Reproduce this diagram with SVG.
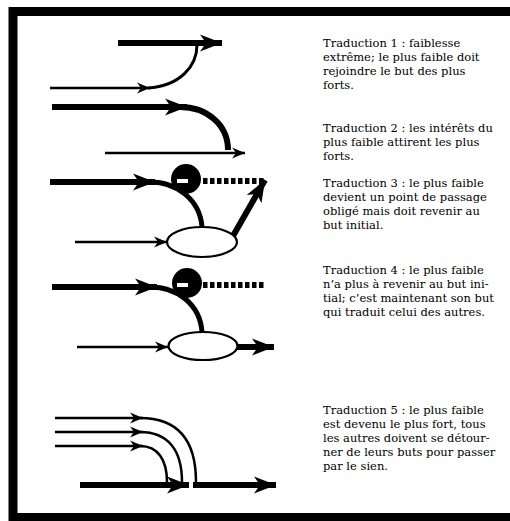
<svg xmlns="http://www.w3.org/2000/svg" width="510" height="521" viewBox="0 0 510 521">
<style>
.thin{fill:none;stroke:#000;stroke-width:2.5}
.thick{fill:none;stroke:#000;stroke-width:6}
.curve{fill:none;stroke:#000;stroke-width:5}
.dots{fill:none;stroke:#000;stroke-width:6;stroke-dasharray:4.5 2.5}
.node{fill:#fff;stroke:#000;stroke-width:2.2}
.txt{font-family:"DejaVu Serif","Liberation Serif",serif;font-size:11.5px;fill:#000}
</style>
<defs>
<marker id="ah" markerUnits="userSpaceOnUse" viewBox="-15 -7 17 14" refX="0" refY="0" markerWidth="17" markerHeight="14" orient="auto">
<path d="M0,0 L-13,-5.5 L-9,0 L-13,5.5 Z" fill="#000"/>
</marker>
<marker id="ahb" markerUnits="userSpaceOnUse" viewBox="-23 -10 25 20" refX="0" refY="0" markerWidth="25" markerHeight="20" orient="auto">
<path d="M0,0 L-22,-8.5 L-16,0 L-22,8.5 Z" fill="#000"/>
</marker>
</defs>
<rect x="13" y="11.5" width="520" height="506" fill="#fff" stroke="#000" stroke-width="9"/>

<g id="connectors">
<!-- Traduction 1 -->
<path class="thick" d="M118 43 H222" marker-end="url(#ahb)"/>
<path class="thin" d="M50 88 H150" marker-end="url(#ah)"/>
<path class="thin" d="M148 88 C180 86 197 66 197 45" style="stroke-width:3"/>
<!-- Traduction 2 -->
<path class="thick" d="M52 107 H187" marker-end="url(#ahb)"/>
<path class="thick" d="M180 107 C206 107 228 124 228 150"/>
<path class="thin" d="M105 153 H245" marker-end="url(#ah)"/>
<!-- Traduction 3 -->
<path class="thick" d="M50 182 H155" marker-end="url(#ahb)"/>
<path class="curve" d="M150 182 C177 182 200 200 202 227"/>
<path class="dots" d="M203 181 H265"/>
<path class="thin" d="M75 242 H167" marker-end="url(#ah)"/>
<path class="thick" d="M233 236 L265 180" marker-end="url(#ahb)"/>
<!-- Traduction 4 -->
<path class="thick" d="M52 287 H157" marker-end="url(#ahb)"/>
<path class="curve" d="M150 287 C177 287 200 304 202 332"/>
<path class="dots" d="M203 285 H265"/>
<path class="thin" d="M77 347 H168" marker-end="url(#ah)"/>
<path class="thick" d="M237 347 H274" marker-end="url(#ahb)"/>
<!-- Traduction 5 -->
<path class="thin" d="M55 418 H143" marker-end="url(#ah)"/>
<path class="thin" d="M55 432 H143" marker-end="url(#ah)"/>
<path class="thin" d="M55 446 H143" marker-end="url(#ah)"/>
<path class="thin" d="M140 418 C178 418 196 440 196 482"/>
<path class="thin" d="M140 432 C168 432 182 450 182 482"/>
<path class="thin" d="M140 446 C158 446 167 460 167 482"/>
<path class="thick" d="M80 485 H189" marker-end="url(#ahb)"/>
<path class="thick" d="M193 485 H276" marker-end="url(#ahb)"/>
</g>

<g id="obstacle3">
<circle cx="186" cy="179" r="15" fill="#000"/>
<rect x="177" y="179" width="11" height="4" fill="#fff"/>
</g>
<g id="weak3"><ellipse class="node" cx="202" cy="242" rx="35" ry="15"/></g>
<g id="obstacle4">
<circle cx="187" cy="283" r="15" fill="#000"/>
<rect x="177" y="283" width="11" height="4" fill="#fff"/>
</g>
<g id="weak4"><ellipse class="node" cx="203" cy="346" rx="34.5" ry="14"/></g>

<g id="text1" class="txt">
<text x="323" y="47">Traduction 1 : faiblesse</text>
<text x="323" y="61">extrême; le plus faible doit</text>
<text x="323" y="75">rejoindre le but des plus</text>
<text x="323" y="89">forts.</text>
</g>
<g id="text2" class="txt">
<text x="323" y="132">Traduction 2 : les intérêts du</text>
<text x="323" y="146">plus faible attirent les plus</text>
<text x="323" y="160">forts.</text>
</g>
<g id="text3" class="txt">
<text x="323" y="187">Traduction 3 : le plus faible</text>
<text x="323" y="201">devient un point de passage</text>
<text x="323" y="215">obligé mais doit revenir au</text>
<text x="323" y="229">but initial.</text>
</g>
<g id="text4" class="txt">
<text x="323" y="274">Traduction 4 : le plus faible</text>
<text x="323" y="288">n’a plus à revenir au but ini-</text>
<text x="323" y="302">tial; c’est maintenant son but</text>
<text x="323" y="316">qui traduit celui des autres.</text>
</g>
<g id="text5" class="txt">
<text x="323" y="414">Traduction 5 : le plus faible</text>
<text x="323" y="428">est devenu le plus fort, tous</text>
<text x="323" y="442">les autres doivent se détour-</text>
<text x="323" y="456">ner de leurs buts pour passer</text>
<text x="323" y="470">par le sien.</text>
</g>
</svg>
